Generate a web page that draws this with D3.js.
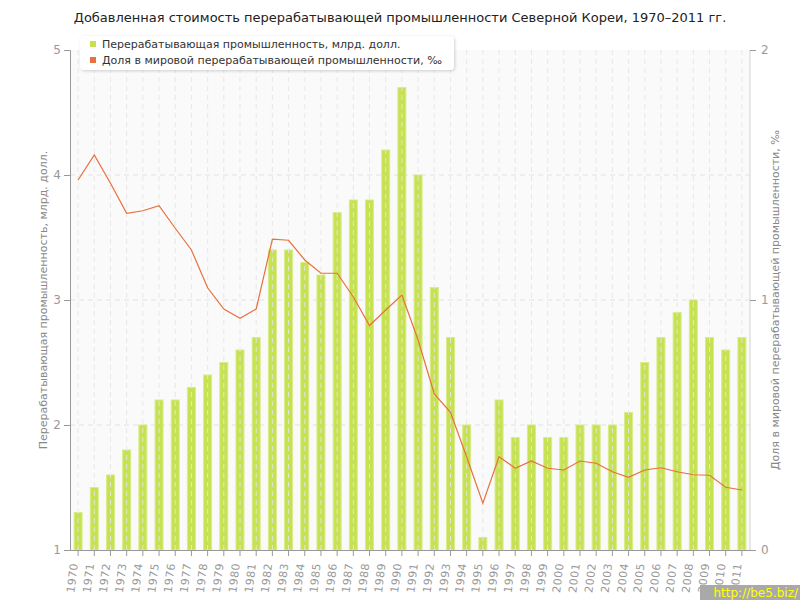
<!DOCTYPE html>
<html><head><meta charset="utf-8">
<script src="https://cdn.jsdelivr.net/npm/d3@7"></script>
<style>body{margin:0;background:#fff;}svg{display:block;font-family:"DejaVu Sans",Verdana,sans-serif;}</style>
</head><body>
<svg id="c" width="800" height="600"></svg>
<script>
const years = [1970,1971,1972,1973,1974,1975,1976,1977,1978,1979,1980,1981,1982,1983,1984,1985,1986,1987,1988,1989,1990,1991,1992,1993,1994,1995,1996,1997,1998,1999,2000,2001,2002,2003,2004,2005,2006,2007,2008,2009,2010,2011];
const valueAdded = [1.3,1.5,1.6,1.8,2.0,2.2,2.2,2.3,2.4,2.5,2.6,2.7,3.4,3.4,3.3,3.2,3.7,3.8,3.8,4.2,4.7,4.0,3.1,2.7,2.0,1.1,2.2,1.9,2.0,1.9,1.9,2.0,2.0,2.0,2.1,2.5,2.7,2.9,3.0,2.7,2.6,2.7];
const worldShare = [1.48,1.58,1.467,1.347,1.357,1.377,1.287,1.2,1.049,0.964,0.927,0.964,1.243,1.239,1.16,1.107,1.107,1.012,0.898,0.96,1.02,0.84,0.624,0.551,0.372,0.187,0.373,0.327,0.356,0.327,0.32,0.356,0.347,0.313,0.291,0.32,0.329,0.313,0.301,0.299,0.251,0.24];
const leftTicks = [1,2,3,4,5];
const rightTicks = [0,1,2];
const title = "Добавленная стоимость перерабатывающей промышленности Северной Кореи, 1970–2011 гг.";
const seriesNames = ["Перерабатывающая промышленность, млрд. долл.","Доля в мировой перерабатывающей промышленности, ‰"];
const leftLabel = "Перерабатывающая промышленность, млрд. долл.";
const rightLabel = "Доля в мировой перерабатывающей промышленности, ‰";
const colors = ["#c6e151","#e8703f"];

const svg = d3.select("#c");
const L=70,R=750,T=50,B=550;
const x = d3.scaleBand().domain(years).range([L,R]).padding(0);
const yL = d3.scaleLinear().domain([1,5]).range([B,T]);
const yR = d3.scaleLinear().domain([0,2]).range([B,T]);
const cx = d=>x(d)+x.bandwidth()/2;

svg.append("rect").attr("x",L).attr("y",T).attr("width",R-L).attr("height",B-T).attr("fill","#fafafa");
svg.append("line").attr("x1",R).attr("x2",R).attr("y1",T).attr("y2",B).attr("stroke","#e4e4e4");

// horizontal grid
svg.append("g").selectAll("line").data(leftTicks.slice(1,-1)).join("line")
  .attr("x1",L).attr("x2",R).attr("y1",d=>yL(d)).attr("y2",d=>yL(d))
  .attr("stroke","#e2e2e2").attr("stroke-dasharray","5,4");

// bars
const bw=8;
svg.append("g").selectAll("rect").data(years).join("rect")
  .attr("x",(d)=>cx(d)-bw/2).attr("width",bw)
  .attr("y",(d,i)=>yL(valueAdded[i])).attr("height",(d,i)=>B-yL(valueAdded[i]))
  .attr("fill",colors[0]).attr("stroke","#d8ec8a").attr("stroke-width",1);

// vertical grid (over bars)
svg.append("g").selectAll("line").data(years).join("line")
  .attr("x1",d=>cx(d)).attr("x2",d=>cx(d)).attr("y1",T).attr("y2",B)
  .attr("stroke","#e6e6e6").attr("stroke-opacity",0.9).attr("stroke-dasharray","5,4");

// line
const line = d3.line().x((d,i)=>cx(years[i])).y(d=>yR(d));
svg.append("path").datum(worldShare).attr("d",line).attr("fill","none")
  .attr("stroke",colors[1]).attr("stroke-width",1.2);

// axes
const axL = svg.append("g").attr("transform",`translate(${L},0)`).call(d3.axisLeft(yL).tickValues(leftTicks).tickSize(6).tickPadding(3).tickFormat(d3.format("d")));
const axR = svg.append("g").attr("transform",`translate(${R},0)`).call(d3.axisRight(yR).tickValues(rightTicks).tickSize(6).tickPadding(5).tickFormat(d3.format("d")));
const axB = svg.append("g").attr("transform",`translate(0,${B})`).call(d3.axisBottom(x).tickSize(6).tickSizeOuter(0));
[axL,axR,axB].forEach(a=>{
  a.select(".domain").attr("stroke","#999");
  a.selectAll(".tick line").attr("stroke","#999");
  a.selectAll("text").attr("fill","#999").style("font-family","DejaVu Sans, Verdana, sans-serif");
});
axR.select(".domain").attr("d",`M0,${T}V${B}`).attr("stroke","#ddd");
axL.selectAll("text").style("font-size","12px");
axR.selectAll("text").style("font-size","12px");
axB.selectAll("text").style("font-size","11px").attr("text-anchor","end")
  .attr("transform","translate(-4,13) rotate(-83)").attr("dy","0.35em").attr("y",0).attr("x",0).attr("letter-spacing","0.5px");

// axis labels
svg.append("text").attr("transform",`translate(47,${(T+B)/2}) rotate(-90)`).attr("text-anchor","middle")
  .attr("fill","#888").style("font-size","11px").text(leftLabel);
svg.append("text").attr("transform",`translate(779,${(T+B)/2}) rotate(-90)`).attr("text-anchor","middle")
  .attr("fill","#888").style("font-size","11px").text(rightLabel);

// title
svg.append("text").attr("x",400).attr("y",22).attr("text-anchor","middle").attr("fill","#222")
  .style("font-size","13px").text(title);

// legend
const defs = svg.append("defs");
const f = defs.append("filter").attr("id","sh").attr("x","-10%").attr("y","-30%").attr("width","120%").attr("height","160%");
f.append("feDropShadow").attr("dx",1).attr("dy",1).attr("stdDeviation",1.5).attr("flood-color","#000").attr("flood-opacity",0.18);
const lg = svg.append("g");
lg.append("rect").attr("x",80).attr("y",36).attr("width",374).attr("height",34).attr("rx",4)
  .attr("fill","#fff").attr("filter","url(#sh)");
seriesNames.forEach((n,i)=>{
  lg.append("rect").attr("x",90).attr("y",41+i*16).attr("width",6).attr("height",6).attr("fill",colors[i]);
  lg.append("text").attr("x",102).attr("y",48+i*16).attr("fill","#333").style("font-size","11px").text(n);
});

// watermark
svg.append("rect").attr("x",700).attr("y",585).attr("width",100).attr("height",15).attr("fill","#a9a9a9");
svg.append("text").attr("x",798).attr("y",597).attr("text-anchor","end").attr("fill","#ffff00").style("font-size","12px").text("http://be5.biz/");
</script>
</body></html>
